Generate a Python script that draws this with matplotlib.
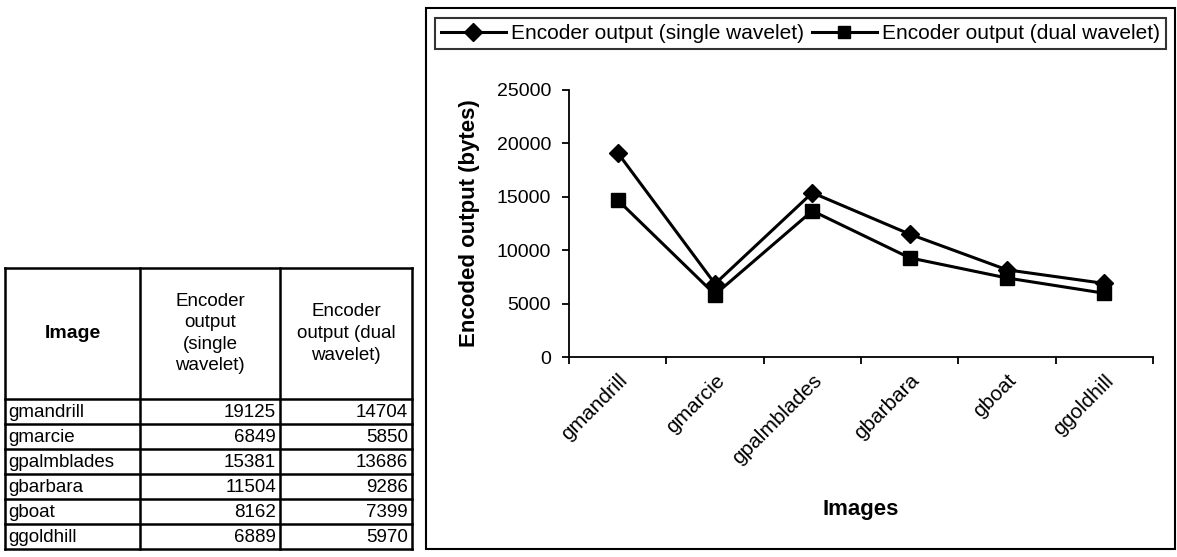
import matplotlib
matplotlib.use("Agg")
import matplotlib.pyplot as plt
from matplotlib.lines import Line2D
from matplotlib.patches import Rectangle

plt.rcParams['font.family'] = ['Liberation Sans', 'DejaVu Sans']

images = ["gmandrill", "gmarcie", "gpalmblades", "gbarbara", "gboat", "ggoldhill"]
single_wavelet = [19125, 6849, 15381, 11504, 8162, 6889]
dual_wavelet = [14704, 5850, 13686, 9286, 7399, 5970]
table_headers = ["Image", "Encoder\noutput\n(single\nwavelet)", "Encoder\noutput (dual\nwavelet)"]
yticks = [0, 5000, 10000, 15000, 20000, 25000]

W, H = 1177, 557
fig = plt.figure(figsize=(W / 100, H / 100), dpi=100)


def fx(x):
    return x / W


def fy(y):
    return 1 - y / H


# ---- chart frame
fig.patches.append(Rectangle((fx(426), fy(549)), fx(1175) - fx(426), fy(8) - fy(549),
                             transform=fig.transFigure, fill=False, ec='black', lw=1.5))

# ---- main axes
ax_l, ax_r, ax_t, ax_b = 569, 1153, 90, 357
ax = fig.add_axes([fx(ax_l), fy(ax_b), fx(ax_r) - fx(ax_l), fy(ax_t) - fy(ax_b)])
x = list(range(len(images)))
ax.plot(x, single_wavelet, color='black', lw=2.2, marker='D', ms=9, mfc='black', mec='black',
        label='Encoder output (single wavelet)')
ax.plot(x, dual_wavelet, color='black', lw=2.2, marker='s', ms=10, mfc='black', mec='black',
        label='Encoder output (dual wavelet)')
ax.set_xlim(-0.5, len(images) - 0.5)
ax.set_ylim(0, 25000)
ax.set_yticks(yticks)
ax.set_yticklabels([str(v) for v in yticks], fontsize=14)
ax.set_xticks([i - 0.5 for i in range(len(images) + 1)], minor=False)
ax.set_xticklabels([])
ax.set_xticks(x, minor=True)
ax.set_xticklabels(images, minor=True, rotation=45, ha='right', rotation_mode='anchor', fontsize=15)
ax.tick_params(axis='x', which='minor', length=0, pad=10)
ax.tick_params(axis='x', which='major', length=5, width=1.3, direction='out')
ax.tick_params(axis='y', length=5, width=1.3, direction='out', pad=8)
for s in ['top', 'right']:
    ax.spines[s].set_visible(False)
for s in ['left', 'bottom']:
    ax.spines[s].set_linewidth(1.3)
ax.set_ylabel('Encoded output (bytes)', fontsize=16, fontweight='bold')
ax.yaxis.set_label_coords((470 - ax_l) / (ax_r - ax_l), 0.5)
ax.set_xlabel('Images', fontsize=16, fontweight='bold')
ax.xaxis.set_label_coords(0.5, -(510 - ax_b) / (ax_b - ax_t))
ax.xaxis.label.set_va('center')
ax.yaxis.label.set_va('center')

# ---- legend
handles = [Line2D([], [], color='black', lw=2.2, marker='D', ms=9),
           Line2D([], [], color='black', lw=2.2, marker='s', ms=9)]
labels = ['Encoder output (single wavelet)', 'Encoder output (dual wavelet)']
leg = fig.legend(handles, labels, loc='center', ncol=2,
                 bbox_to_anchor=((fx(430) + fx(1171)) / 2, (fy(15) + fy(52)) / 2),
                 frameon=True, fancybox=False, edgecolor='black', fontsize=15,
                 handlelength=3.1, handletextpad=0.25, columnspacing=0.4, borderpad=0.3,
                 borderaxespad=0)
leg.get_frame().set_linewidth(1.5)

# ---- table
tax = fig.add_axes([0, 0, 1, 1])
tax.set_xlim(0, W)
tax.set_ylim(H, 0)
tax.axis('off')
cols = [5, 140, 280, 412]
top, head_bot, row_h = 268, 399, 25
rows = [head_bot + i * row_h for i in range(len(images) + 1)]
lw = 1.8
for cx in cols:
    tax.plot([cx, cx], [top, rows[-1]], color='black', lw=lw)
tax.plot([cols[0], cols[-1]], [top, top], color='black', lw=lw)
for ry in rows:
    tax.plot([cols[0], cols[-1]], [ry, ry], color='black', lw=lw)
fs = 13.5
tax.text((cols[0] + cols[1]) / 2, (top + head_bot) / 2, table_headers[0], ha='center', va='center',
         fontsize=14, fontweight='bold')
for j in (1, 2):
    tax.text((cols[j] + cols[j + 1]) / 2, (top + head_bot) / 2, table_headers[j], ha='center',
             va='center', fontsize=fs, linespacing=1.35)
for i, name in enumerate(images):
    yc = rows[i] + row_h / 2 + 1
    tax.text(cols[0] + 3, yc, name, ha='left', va='center', fontsize=fs)
    tax.text(cols[2] - 4, yc, str(single_wavelet[i]), ha='right', va='center', fontsize=fs)
    tax.text(cols[3] - 4, yc, str(dual_wavelet[i]), ha='right', va='center', fontsize=fs)

fig.savefig('out.png', dpi=100)
